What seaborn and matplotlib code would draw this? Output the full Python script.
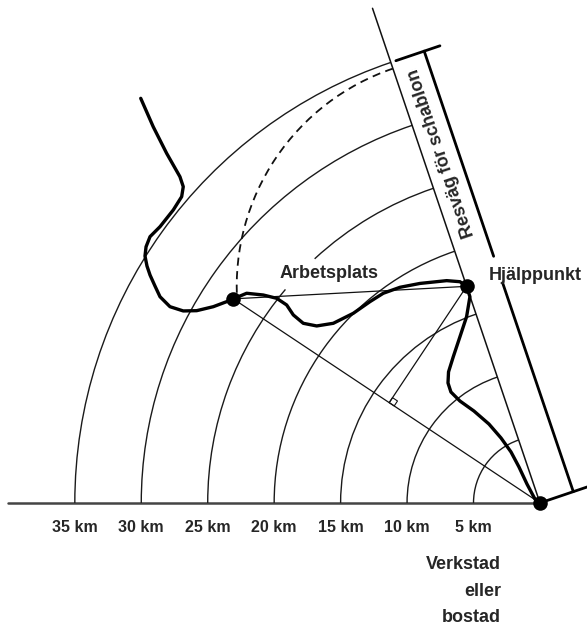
import numpy as np
import pandas as pd
import matplotlib
matplotlib.use("Agg")
import matplotlib.pyplot as plt
import seaborn as sns
from matplotlib.patches import Arc, Polygon

# avståndscirklar runt verkstad/bostad (km)
radier_km = [5, 10, 15, 20, 25, 30, 35]
km_etiketter = ["5 km", "10 km", "15 km", "20 km", "25 km", "30 km", "35 km"]

# riktning mot hjälppunkt (grader) och avstånd (km)
riktning = 108.7
hjalp_avstand = 17.21
arbetsplats = (-23.08, 15.36)
resvag_km = 35
cirkel_radie = 17.3  # streckad båge runt hjälppunkt

# vägen (km, verkstad i origo)
vag_x = [-30.04, -29.10, -28.09, -27.09, -26.84, -26.96, -27.59, -28.59, -29.34, -29.64,
         -29.72, -29.57, -29.34, -28.97, -28.59, -27.84, -26.84, -25.83, -24.58, -23.57,
         -23.08, -22.07, -20.82, -19.81, -19.06, -18.56, -17.81, -16.80, -15.55, -14.05,
         -12.79, -11.79, -10.53, -9.03, -7.02, -6.02, -5.52, -5.27, -5.52, -6.02,
         -6.52, -6.88, -6.92, -6.70, -6.02, -4.97, -3.84, -2.93, -2.18, -1.58,
         -0.98, -0.38, 0.0]
vag_y = [30.45, 28.31, 26.31, 24.55, 23.80, 23.05, 22.05, 20.79, 20.04, 19.28,
         18.58, 17.83, 17.15, 16.33, 15.52, 14.77, 14.45, 14.47, 14.77, 15.15,
         15.36, 15.78, 15.65, 15.40, 14.90, 14.15, 13.52, 13.32, 13.52, 14.27,
         15.15, 15.78, 16.23, 16.52, 16.73, 16.65, 16.30, 15.52, 14.02, 12.51,
         11.01, 9.86, 9.03, 8.35, 7.67, 6.92, 5.94, 4.89, 3.84, 2.71,
         1.43, 0.30, 0.0]

sns.set_style("white")
plt.rcParams['font.family'] = ['Liberation Sans', 'DejaVu Sans']

fig = plt.figure(figsize=(5.87, 6.26), dpi=100)
ax = fig.add_axes([0, 0, 1, 1])

th = np.deg2rad(riktning)
u = np.array([np.cos(th), np.sin(th)])
n = np.array([np.sin(th), -np.cos(th)])
H = hjalp_avstand * u
A = np.array(arbetsplats)

def punkt(langs, sida=0.0):
    return langs * u + sida * n

# baslinje
ax.plot([-40.0, 0], [0, 0], color='#444444', lw=1.8, zorder=1)

# avståndsbågar (25 km bruten vid texten)
glapp = {25: (132.7, 140.0)}
for r in radier_km:
    delar = [(riktning, 180)]
    if r in glapp:
        delar = [(riktning, glapp[r][0]), (glapp[r][1], 180)]
    for t1, t2 in delar:
        ax.add_patch(Arc((0, 0), 2 * r, 2 * r, theta1=t1, theta2=t2,
                         color='#1a1a1a', lw=1.0, zorder=1))
for r, lab in zip(radier_km, km_etiketter):
    ax.text(-r, -2.16, lab, ha='center', va='baseline', fontsize=11.5,
            fontweight='bold')

# tunna linjer
p_top = punkt(39.3)
ax.plot([0, p_top[0]], [0, p_top[1]], color='#111111', lw=1.1, zorder=2)
ax.plot([0, A[0]], [0, A[1]], color='#111111', lw=0.9, zorder=2)
ax.plot([A[0], H[0]], [A[1], H[1]], color='#111111', lw=0.9, zorder=2)

# vinkelrät linje från hjälppunkt mot linjen verkstad-arbetsplats
a = A / np.linalg.norm(A)
F = np.dot(H, a) * a
ax.plot([H[0], F[0]], [H[1], F[1]], color='#111111', lw=0.9, zorder=2)
s = 0.45
dO = -a
dH = (H - F) / np.linalg.norm(H - F)
ax.add_patch(Polygon([F, F + s * dO, F + s * dO + s * dH, F + s * dH],
                     closed=True, fill=False, ec='#111111', lw=0.8, zorder=2))

# streckad båge runt hjälppunkten
ax.add_patch(Arc(tuple(H), 2 * cirkel_radie, 2 * cirkel_radie, theta1=riktning,
                 theta2=183.5, color='#111111', lw=1.3, ls=(0, (4.5, 3)), zorder=2))

# resväg för schablon (tjock linje med ändstreck)
for l1, l2 in [(0, 16.6), (18.7, resvag_km)]:
    p1, p2 = punkt(l1, 2.65), punkt(l2, 2.65)
    ax.plot([p1[0], p2[0]], [p1[1], p2[1]], color='black', lw=2.0, zorder=3)
for l, s1, s2 in [(0, 0.0, 3.9), (resvag_km, 0.4, 3.9)]:
    p1, p2 = punkt(l, s1), punkt(l, s2)
    ax.plot([p1[0], p2[0]], [p1[1], p2[1]], color='black', lw=2.0, zorder=3)
pt = punkt(27.3, 1.43)
ax.text(pt[0], pt[1], "Resväg för schablon", rotation=riktning,
        rotation_mode='anchor', ha='center', va='center', fontsize=13,
        fontweight='bold')

# vägen
vag = pd.DataFrame({'x': vag_x, 'y': vag_y})
sns.lineplot(data=vag, x='x', y='y', sort=False, estimator=None, color='black',
             lw=2.4, ax=ax, zorder=4, solid_joinstyle='round', solid_capstyle='round')

# punkter
pts = pd.DataFrame({'x': [A[0], H[0], 0.0], 'y': [A[1], H[1], 0.0]})
sns.scatterplot(data=pts, x='x', y='y', color='black', s=110, ax=ax, zorder=5,
                edgecolor='black', linewidth=0)

ax.text(-15.89, 16.91, "Arbetsplats", ha='center', va='baseline', fontsize=13,
        fontweight='bold')
ax.text(-3.89, 16.78, "Hjälppunkt", ha='left', va='baseline', fontsize=13,
        fontweight='bold')
for txt, yy in zip(["Verkstad", "eller", "bostad"], [-4.99, -7.00, -8.93]):
    ax.text(-2.93, yy, txt, ha='right', va='baseline', fontsize=13, fontweight='bold')

ax.set_xlim(-40.63, 3.54)
ax.set_ylim(-9.26, 37.85)
ax.axis('off')
fig.savefig("out.png", dpi=100)
